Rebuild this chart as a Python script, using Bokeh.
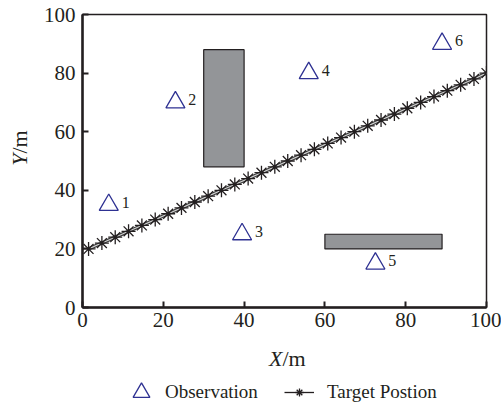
from bokeh.plotting import figure
from bokeh.models import Range1d, Label, Legend, LegendItem, FixedTicker
from bokeh.layouts import row, column
from bokeh.embed import file_html
from bokeh.resources import INLINE
import math

# ---- data ----
obs_x = [6.5, 23, 39.5, 56, 72.5, 89]
obs_y = [35, 70, 25, 80, 15, 90]
obs_labels = ["1", "2", "3", "4", "5", "6"]

target_x = [1.5, 4.8, 8.1, 11.4, 14.7, 18.0, 21.2, 24.5, 27.8, 31.1, 34.4, 37.7,
            41.0, 44.3, 47.6, 50.8, 54.1, 57.4, 60.7, 64.0, 67.3, 70.6, 73.9,
            77.2, 80.4, 83.7, 87.0, 90.3, 93.6, 96.9, 100.0]
target_y = [20, 22, 24, 26, 28, 30, 32, 34, 36, 38, 40, 42, 44, 46, 48, 50,
            52, 54, 56, 58, 60, 62, 64, 66, 68, 70, 72, 74, 76, 78, 80]

obst_left = [30, 60]
obst_right = [40, 89]
obst_bottom = [48, 20]
obst_top = [88, 25]

x_ticks = [0, 20, 40, 60, 80, 100]
y_ticks = [0, 20, 40, 60, 80, 100]

legend_labels = ["Observation", "Target Postion"]

FONT = "Liberation Serif"
INK = "#231f20"
BLUE = "#2e3192"
NAN = float("nan")

# ---------------- main plot ----------------
p = figure(width=467, height=339, output_backend="svg", toolbar_location=None,
           x_range=Range1d(0, 100), y_range=Range1d(0, 100),
           min_border_left=48, min_border_right=15, min_border_top=14,
           min_border_bottom=32)
p.grid.visible = False
p.outline_line_color = INK
p.outline_line_width = 1.5

for ax in (p.xaxis[0], p.yaxis[0]):
    ax.axis_line_width = 2.5
    ax.axis_line_color = INK
    ax.major_tick_in = 6
    ax.major_tick_out = 0
    ax.major_tick_line_width = 2
    ax.major_tick_line_color = INK
    ax.minor_tick_line_color = None
    ax.major_label_text_font = FONT
    ax.major_label_text_font_size = "21px"
    ax.major_label_text_color = INK
p.xaxis.ticker = FixedTicker(ticks=x_ticks)
p.yaxis.ticker = FixedTicker(ticks=y_ticks)
p.xaxis.major_label_standoff = 5
p.yaxis.major_label_standoff = 7

p.quad(left=obst_left, right=obst_right, bottom=obst_bottom, top=obst_top,
       fill_color="#939598", line_color=INK, line_width=1.2)

# target path (double-stroke look)
p.line(target_x, target_y, line_color="#3a3a3a", line_width=3.4)
p.line(target_x, target_y, line_color="#cfcfcf", line_width=1.2)
p.scatter(target_x, target_y, marker="asterisk", size=14,
          line_color=INK, line_width=1.3)

p.scatter(obs_x, obs_y, marker="triangle", size=19, fill_color=None,
          line_color=BLUE, line_width=1.3)
for x, y, t in zip(obs_x, obs_y, obs_labels):
    p.add_layout(Label(x=x + 3.2, y=y + 1, text=t, text_font=FONT,
                       text_font_size="16px", text_color=INK,
                       text_baseline="middle", text_align="left"))

# ---------------- y-axis title strip ----------------
py = figure(width=34, height=405, output_backend="svg", toolbar_location=None,
            x_range=Range1d(0, 34), y_range=Range1d(0, 405),
            x_axis_type=None, y_axis_type=None, min_border=0)
py.grid.visible = False
py.outline_line_color = None
py.add_layout(Label(x=19, y=252, text="Y", text_font=FONT, text_font_style="italic",
                    text_font_size="22px", text_align="right", text_baseline="middle",
                    angle=math.pi / 2, text_color=INK))
py.add_layout(Label(x=19, y=252, text="/m", text_font=FONT,
                    text_font_size="22px", text_align="left", text_baseline="middle",
                    angle=math.pi / 2, text_color=INK))

# ---------------- x-axis title + legend strip (frame aligned with main plot) ----------------
pb = figure(width=467, height=66, output_backend="svg", toolbar_location=None,
            x_range=Range1d(82, 486), y_range=Range1d(0, 66),
            x_axis_type=None, y_axis_type=None, min_border=0)
pb.grid.visible = False
pb.outline_line_color = None
pb.add_layout(Label(x=282, y=47, text="X", text_font=FONT, text_font_style="italic",
                    text_font_size="22px", text_align="right", text_baseline="middle",
                    text_color=INK))
pb.add_layout(Label(x=282, y=47, text="/m", text_font=FONT,
                    text_font_size="22px", text_align="left", text_baseline="middle",
                    text_color=INK))

# legend-only renderers (no visible data in this strip)
lg_obs = pb.scatter([NAN], [NAN], marker="triangle", fill_color=None,
                    line_color=BLUE, line_width=1.3)
lg_line = pb.line([NAN, NAN], [NAN, NAN], line_color=INK, line_width=1.3)
lg_star = pb.scatter([NAN], [NAN], marker="asterisk", line_color=INK, line_width=1.3)

leg1 = Legend(items=[LegendItem(label=legend_labels[0], renderers=[lg_obs])],
              location=(38, -8), glyph_width=42, glyph_height=42,
              label_standoff=3, padding=0, margin=0, border_line_color=None,
              background_fill_alpha=0,
              label_text_font=FONT, label_text_font_size="19px",
              label_text_color=INK)
leg2 = Legend(items=[LegendItem(label=legend_labels[1], renderers=[lg_line, lg_star])],
              location=(202, 2), glyph_width=30, glyph_height=20,
              label_standoff=13, padding=0, margin=0, border_line_color=None,
              background_fill_alpha=0,
              label_text_font=FONT, label_text_font_size="19px",
              label_text_color=INK)
pb.add_layout(leg1)
pb.add_layout(leg2)

layout = row(py, column(p, pb))
open("out.html", "w").write(file_html(layout, INLINE))
